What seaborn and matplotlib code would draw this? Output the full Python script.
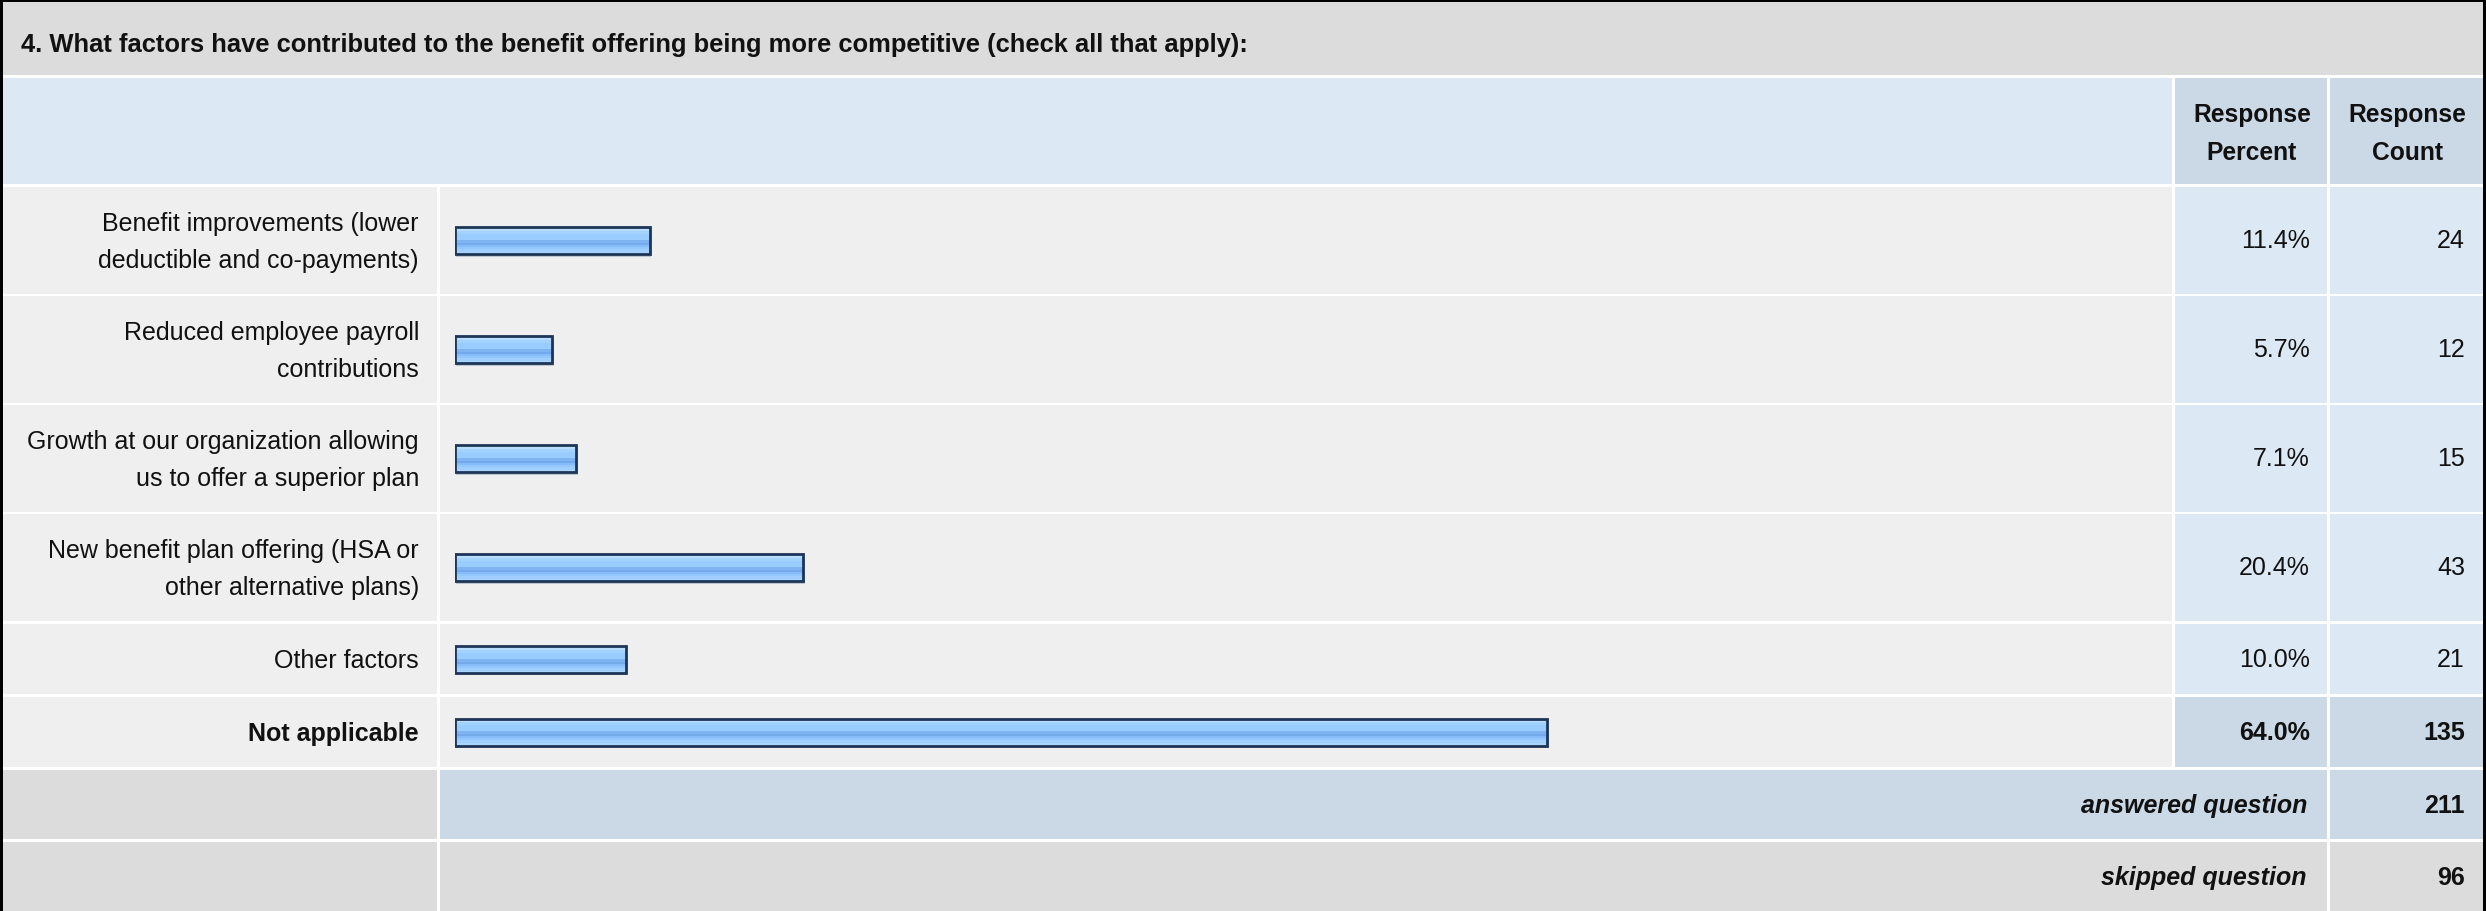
import numpy as np
import matplotlib
matplotlib.use("Agg")
import matplotlib.pyplot as plt
from matplotlib.patches import Rectangle
from matplotlib.colors import to_rgb
import seaborn as sns

# Survey data
question = ("4. What factors have contributed to the benefit offering being "
            "more competitive (check all that apply):")
answer_labels = [
    "Benefit improvements (lower\ndeductible and co-payments)",
    "Reduced employee payroll\ncontributions",
    "Growth at our organization allowing\nus to offer a superior plan",
    "New benefit plan offering (HSA or\nother alternative plans)",
    "Other factors",
    "Not applicable",
]
response_percent = [11.4, 5.7, 7.1, 20.4, 10.0, 64.0]
response_count = [24, 12, 15, 43, 21, 135]
answered_question = 211
skipped_question = 96
highlight_index = 5  # the leading answer is shown in bold

# Page geometry (pixels)
W, H = 2486, 912
DPI = 100
row_tops = [188, 297, 406, 515, 625, 698]
row_bots = [295, 404, 513, 622, 695, 768]
col_label = (3, 437)
col_bar = (440, 2172)
col_pct = (2175, 2327)
col_cnt = (2330, 2483)
bar_x0, bar_x100 = 455, 2162
bar_px = 27

GRAY = "#dcdcdc"
ROW_BG = "#efefef"
LIGHT_BLUE = "#dde8f5"
DARK_BLUE = "#cbd8e6"
EDGE = "#1d3557"
TXT = "#111111"
FS = 18
grad_colors = ["#d2eaff", "#b9ddff", "#a4d2ff", "#99ccff", "#99ccff", "#99ccff",
               "#7fb4f3", "#74a9ec", "#86bcfa", "#93c8ff", "#a0cfff", "#a8d4ff"]

sns.set_theme(style="white")
plt.rcParams["font.family"] = ["Liberation Sans", "DejaVu Sans"]

fig = plt.figure(figsize=(W / DPI, H / DPI), dpi=DPI, facecolor="white")
bg = fig.add_axes([0, 0, 1, 1])
bg.set_xlim(0, W)
bg.set_ylim(H, 0)
bg.axis("off")


def cell(x0, x1, y0, y1, color):
    bg.add_patch(Rectangle((x0, y0), x1 - x0, y1 - y0, facecolor=color,
                           edgecolor="none", zorder=1))


# outer black frame
bg.add_patch(Rectangle((0, 0), W, H, facecolor="black", edgecolor="none", zorder=0))
bg.add_patch(Rectangle((3, 3), W - 6, H - 3, facecolor="white", edgecolor="none", zorder=0.5))

# title bar
cell(3, 2483, 3, 76, GRAY)
bg.text(21, 45, question, fontsize=18.4, fontweight="bold", ha="left", va="center",
        color=TXT, zorder=5)

# header row
cell(3, col_bar[1], 79, 185, LIGHT_BLUE)
cell(*col_pct, 79, 185, DARK_BLUE)
cell(*col_cnt, 79, 185, DARK_BLUE)
for (c0, c1), txt in [(col_pct, "Response\nPercent"), (col_cnt, "Response\nCount")]:
    bg.text((c0 + c1) / 2 + 1, 134, txt, fontsize=17.7, fontweight="bold", ha="center",
            va="center", linespacing=1.72, color=TXT, zorder=5)

# answer rows
for i, (lab, pct, cnt) in enumerate(zip(answer_labels, response_percent, response_count)):
    y0, y1 = row_tops[i], row_bots[i]
    yc = (y0 + y1) / 2
    bold = i == highlight_index
    cell(*col_label, y0, y1, ROW_BG)
    cell(*col_bar, y0, y1, ROW_BG)
    cell(*col_pct, y0, y1, DARK_BLUE if bold else LIGHT_BLUE)
    cell(*col_cnt, y0, y1, DARK_BLUE if bold else LIGHT_BLUE)
    weight = "bold" if bold else "normal"
    bg.text(419, yc + 1, lab, fontsize=FS, fontweight=weight, ha="right", va="center",
            multialignment="right", linespacing=1.7, color=TXT, zorder=5)
    bg.text(2310, yc, f"{pct:.1f}%", fontsize=FS, fontweight=weight, ha="right",
            va="center", color=TXT, zorder=5)
    bg.text(2465, yc, f"{cnt}", fontsize=FS, fontweight=weight, ha="right",
            va="center", color=TXT, zorder=5)

# summary rows
cell(*col_label, 771, 840, GRAY)
cell(col_bar[0], col_pct[1], 771, 840, DARK_BLUE)
cell(*col_cnt, 771, 840, DARK_BLUE)
cell(*col_label, 843, 912, GRAY)
cell(col_bar[0], col_pct[1], 843, 912, GRAY)
cell(*col_cnt, 843, 912, GRAY)
for yc, txt, val in [(806, "answered question", answered_question),
                     (878, "skipped question", skipped_question)]:
    bg.text(2307, yc, txt, fontsize=FS, fontweight="bold", fontstyle="italic",
            ha="right", va="center", color=TXT, zorder=5)
    bg.text(2465, yc, f"{val}", fontsize=FS, fontweight="bold", ha="right",
            va="center", color=TXT, zorder=5)

# bars: one small axes per answer row, sharing the 0-100 % scale
grad = np.array([to_rgb(c) for c in grad_colors])[:, None, :]
for i, (lab, pct) in enumerate(zip(answer_labels, response_percent)):
    y0, y1 = row_tops[i], row_bots[i]
    rh = y1 - y0
    ax = fig.add_axes([bar_x0 / W, 1 - y1 / H, (bar_x100 - bar_x0) / W, rh / H])
    ax.patch.set_alpha(0)
    sns.barplot(x=[pct], y=[lab], orient="h", width=bar_px / rh, ax=ax,
                color="#99ccff", linewidth=0)
    ax.set_xlim(0, 100)
    ax.axis("off")
    for p in ax.patches:
        bb = p.get_bbox()
        # soft drop shadow
        ax.add_patch(Rectangle((bb.x0 + 0.08, bb.y0 + 0.03), bb.width, bb.height,
                               facecolor="#9aa8b8", edgecolor="none", alpha=0.6,
                               zorder=1))
        im = ax.imshow(grad, extent=(bb.x0, bb.x1, bb.y1, bb.y0), origin="upper",
                       aspect="auto", interpolation="nearest", zorder=2)
        im.set_clip_path(p)
        p.set_facecolor("none")
        p.set_edgecolor(EDGE)
        p.set_linewidth(2.0)
        p.set_zorder(3)
    ax.set_xlim(0, 100)
    ax.set_ylim(0.5, -0.5)

fig.savefig("out.png", dpi=DPI, facecolor="white")
